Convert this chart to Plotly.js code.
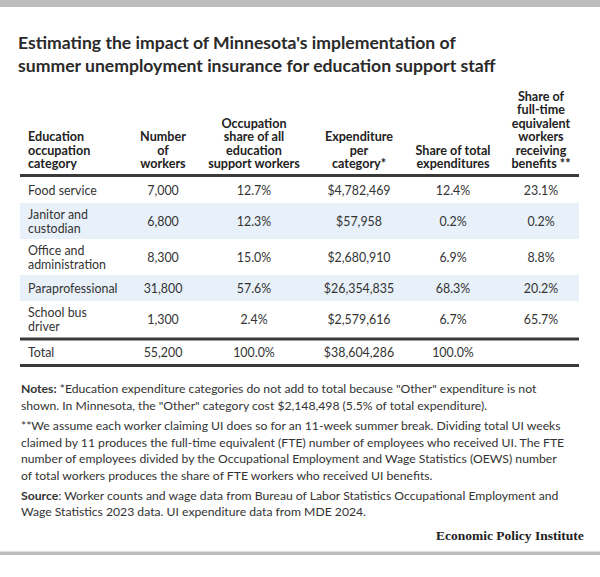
<!DOCTYPE html>
<html><head><meta charset="utf-8">
<script src="https://cdn.plot.ly/plotly-3.0.1.min.js"></script>
<style>html,body{margin:0;padding:0;background:#fff}</style>
</head><body><div id="chart" style="width:600px;height:577px"></div>
<script>
// ---- data ----
const headers = ["Education<br>occupation<br>category", "Number<br>of<br>workers", "Occupation<br>share of all<br>education<br>support workers", "Expenditure<br>per<br>category*", "Share of total<br>expenditures", "Share of<br>full-time<br>equivalent<br>workers<br>receiving<br>benefits **"];
const categories = ["Food service", "Janitor and<br>custodian", "Office and<br>administration", "Paraprofessional", "School bus<br>driver", "Total"];
const workers = ["7,000", "6,800", "8,300", "31,800", "1,300", "55,200"];
const occShare = ["12.7%", "12.3%", "15.0%", "57.6%", "2.4%", "100.0%"];
const expenditure = ["$4,782,469", "$57,958", "$2,680,910", "$26,354,835", "$2,579,616", "$38,604,286"];
const expShare = ["12.4%", "0.2%", "6.9%", "68.3%", "6.7%", "100.0%"];
const fteShare = ["23.1%", "0.2%", "8.8%", "20.2%", "65.7%", ""];

const titleText = "Estimating the impact of Minnesota's implementation of<br>summer unemployment insurance for education support staff";
const noteLines = [
  "<b>Notes:</b> *Education expenditure categories do not add to total because \"Other\" expenditure is not",
  "shown. In Minnesota, the \"Other\" category cost $2,148,498 (5.5% of total expenditure).",
  "**We assume each worker claiming UI does so for an 11-week summer break. Dividing total UI weeks",
  "claimed by 11 produces the full-time equivalent (FTE) number of employees who received UI. The FTE",
  "number of employees divided by the Occupational Employment and Wage Statistics (OEWS) number",
  "of total workers produces the share of FTE workers who received UI benefits.",
  "<b>Source</b>: Worker counts and wage data from Bureau of Labor Statistics Occupational Employment and",
  "Wage Statistics 2023 data. UI expenditure data from MDE 2024."
];
const sourceLabel = "Economic Policy Institute";

// ---- layout constants (page pixels; axes map 1 unit = 1 px) ----
const W = 600, H = 577;
const FONT = "Lato, 'Open Sans', sans-serif";
const columns = [categories, workers, occShare, expenditure, expShare, fteShare];
const colX = [28, 163, 254, 359, 453, 541];
const colPos = ["middle right", "middle center", "middle center", "middle center", "middle center", "middle center"];
const tableLeft = 20, tableRight = 579;
const headerLastLine = 165, headerGap = 13.5, headerRule = 175.5;
const bodyTop = 177, lineGap = 14, singleRow = 26, extraPerLine = 10, textShift = 1.5;
const shadeColor = "#e8f0f9";
const py = v => 1 - v / H;

// row geometry from line counts
const nRows = categories.length;
const lineCount = r => Math.max(...columns.map(col => col[r].split("<br>").length));
const rowTop = [], rowBottom = [];
let y = bodyTop;
let totalRule = null;
for (let r = 0; r < nRows; r++) {
  if (r === nRows - 1) { totalRule = y + 2; y += 3.5; }
  const h = (r === nRows - 1) ? 23.5 : singleRow + extraPerLine * (lineCount(r) - 1);
  rowTop.push(y); rowBottom.push(y + h); y += h;
}
const bottomRule = y + 1.5;

const traces = [];
// header traces (bottom-aligned lines)
columns.forEach((col, c) => {
  const lines = headers[c].split("<br>");
  traces.push({
    type: "scatter", mode: "text", hoverinfo: "skip", showlegend: false,
    x: lines.map(() => colX[c]),
    y: lines.map((_, k) => headerLastLine - (lines.length - 1 - k) * headerGap),
    text: lines.map(t => "<b>" + t + "</b>"),
    textposition: colPos[c],
    textfont: {family: FONT, size: 12.6, color: "#222222"}
  });
});
// body traces
columns.forEach((col, c) => {
  const xs = [], ys = [], ts = [];
  col.forEach((cell, r) => {
    const lines = cell.split("<br>");
    const mid = (rowTop[r] + rowBottom[r]) / 2 + textShift;
    lines.forEach((t, k) => {
      xs.push(colX[c]);
      ys.push(mid + (k - (lines.length - 1) / 2) * lineGap);
      ts.push(t);
    });
  });
  traces.push({
    type: "scatter", mode: "text", hoverinfo: "skip", showlegend: false,
    x: xs, y: ys, text: ts, textposition: colPos[c],
    textfont: {family: FONT, size: 12.4, color: "#333333"}
  });
});

const shapes = [
  {type: "rect", xref: "paper", yref: "paper", x0: 0, x1: 1, y0: py(7), y1: 1, fillcolor: "#bcbcbc", line: {width: 0}},
  {type: "rect", xref: "paper", yref: "paper", x0: 0, x1: 1, y0: py(555), y1: py(551.5), fillcolor: "#bcbcbc", line: {width: 0}}
];
for (let r = 0; r < nRows - 1; r++) {
  if (r % 2 === 1) shapes.push({type: "rect", layer: "below", xref: "x", yref: "y", x0: tableLeft, x1: tableRight, y0: rowTop[r], y1: rowBottom[r], fillcolor: shadeColor, line: {width: 0}});
}
[headerRule, totalRule, bottomRule].forEach(v => shapes.push({type: "line", xref: "x", yref: "y", x0: tableLeft, x1: tableRight, y0: v, y1: v, line: {color: "#3a3a3a", width: 3}}));

const noteY = [388, 405, 425, 442, 459, 475, 495, 511];
const annotations = noteLines.map((t, i) => ({
  text: t, xref: "paper", yref: "paper", x: 19 / W, y: py(noteY[i]),
  xanchor: "left", yanchor: "middle", showarrow: false, align: "left",
  font: {family: FONT, size: 12.2, color: "#333333"}
}));
annotations.push({
  text: "<b>" + sourceLabel + "</b>", xref: "paper", yref: "paper",
  x: 586 / W, y: py(535), xanchor: "right", yanchor: "middle", showarrow: false,
  font: {family: "'Liberation Serif', 'DejaVu Serif', serif", size: 13.5, color: "#222222"}
});

const layout = {
  width: W, height: H,
  margin: {l: 0, r: 0, t: 0, b: 0},
  paper_bgcolor: "#ffffff", plot_bgcolor: "#ffffff",
  xaxis: {range: [0, W], visible: false, fixedrange: true},
  yaxis: {range: [H, 0], visible: false, fixedrange: true},
  title: {
    text: "<b>" + titleText.split("<br>").join("</b><br><b>") + "</b>",
    x: 18 / W, xanchor: "left", xref: "container",
    y: py(49), yanchor: "top", yref: "container",
    font: {family: FONT, size: 17.6, color: "#2a2a2a"}
  },
  hovermode: false,
  shapes: shapes,
  annotations: annotations
};

Plotly.newPlot("chart", traces, layout, {displayModeBar: false, staticPlot: true});
</script></body></html>
